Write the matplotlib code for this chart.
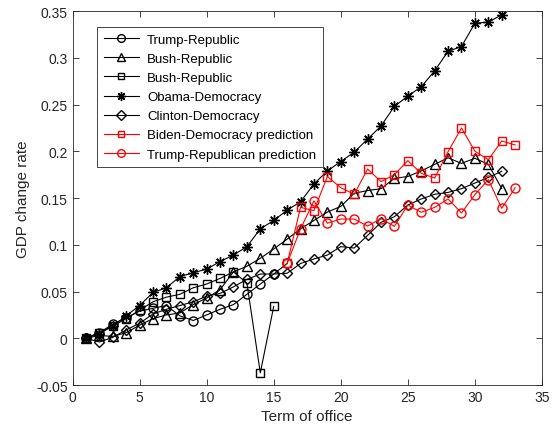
import matplotlib.pyplot as plt

plt.rcParams['font.family'] = ['Liberation Sans', 'DejaVu Sans']

# term index for each series
x_trump = list(range(1, 17))
x_bush_tri = list(range(1, 33))
x_bush_sq = list(range(1, 16))
x_obama = list(range(1, 33))
x_clinton = list(range(1, 33))
x_pred = list(range(16, 34))

trump = [0, 0.006, 0.015, 0.022, 0.029, 0.032, 0.035, 0.024, 0.019, 0.025,
         0.031, 0.036, 0.047, 0.058, 0.0687, 0.080]
bush_tri = [0, 0.003, 0.002, 0.006, 0.014, 0.021, 0.025, 0.027, 0.036, 0.043,
            0.052, 0.071, 0.077, 0.0855, 0.0955, 0.106, 0.117, 0.126, 0.135, 0.141,
            0.155, 0.158, 0.160, 0.171, 0.173, 0.179, 0.186, 0.193, 0.187, 0.1925,
            0.186, 0.160]
bush_sq = [0, 0.006, 0.013, 0.021, 0.030, 0.039, 0.044, 0.047, 0.054, 0.058,
           0.064, 0.071, 0.059, -0.037, 0.034]
obama = [0, 0.005, 0.013, 0.024, 0.035, 0.049, 0.054, 0.066, 0.070, 0.074,
         0.082, 0.089, 0.098, 0.117, 0.126, 0.137, 0.146, 0.165, 0.179, 0.189,
         0.199, 0.213, 0.227, 0.248, 0.259, 0.269, 0.286, 0.307, 0.312, 0.337,
         0.338, 0.346]
clinton = [0, -0.004, 0.001, 0.009, 0.016, 0.026, 0.031, 0.035, 0.039, 0.045,
           0.048, 0.055, 0.063, 0.0687, 0.0687, 0.0695, 0.080, 0.0848, 0.089, 0.098,
           0.0965, 0.110, 0.124, 0.130, 0.1425, 0.149, 0.154, 0.156, 0.160, 0.166,
           0.172, 0.1786]
biden_pred = [0.080, 0.140, 0.1365, 0.173, 0.161, 0.154, 0.181, 0.1675, 0.175,
              0.190, 0.1764, 0.1714, 0.1996, 0.2249, 0.200, 0.191, 0.211, 0.2067]
trump_pred = [0.080, 0.117, 0.147, 0.123, 0.1275, 0.1275, 0.120, 0.128, 0.1197,
              0.1425, 0.1347, 0.140, 0.149, 0.134, 0.1536, 0.1697, 0.139, 0.161]

fig = plt.figure(figsize=(5.54, 4.35), dpi=100)
ax = fig.add_axes([0.1309, 0.1126, 0.8474, 0.8598])

lw = 0.8
ax.plot(x_trump, trump, 'k-', marker='o', ms=6.5, mfc='none', lw=lw, label='Trump-Republic')
ax.plot(x_bush_tri, bush_tri, 'k-', marker='^', ms=7, mfc='none', lw=lw, label='Bush-Republic')
ax.plot(x_bush_sq, bush_sq, 'k-', marker='s', ms=5.5, mfc='none', lw=lw, label='Bush-Republic')
ax.plot(x_obama, obama, 'k-', marker=(8, 2, 0), ms=7.5, lw=lw, label='Obama-Democracy')
ax.plot(x_clinton, clinton, 'k-', marker='D', ms=5.5, mfc='none', lw=lw, label='Clinton-Democracy')
ax.plot(x_pred, biden_pred, '-', color='red', marker='s', ms=5.5, mfc='none', lw=lw,
        label='Biden-Democracy prediction')
ax.plot(x_pred, trump_pred, '-', color='red', marker='o', ms=6.5, mfc='none', lw=lw,
        label='Trump-Republican prediction')

ax.set_xlim(0, 35)
ax.set_ylim(-0.05, 0.35)
ax.set_xticks(range(0, 36, 5))
ax.set_yticks([-0.05, 0, 0.05, 0.1, 0.15, 0.2, 0.25, 0.3, 0.35])
ax.set_yticklabels(['-0.05', '0', '0.05', '0.1', '0.15', '0.2', '0.25', '0.3', '0.35'])
ax.set_xlabel('Term of office', fontsize=11, color='#262626')
ax.set_ylabel('GDP change rate', fontsize=11, color='#262626')

ax.tick_params(direction='in', top=True, right=True, length=4.5, width=0.6,
               labelsize=10, colors='#262626')
for s in ax.spines.values():
    s.set_color('#262626')
    s.set_linewidth(0.6)

leg = ax.legend(loc='upper left', bbox_to_anchor=(0.052, 0.957), borderaxespad=0,
                fontsize=9.5, handlelength=2.7, handletextpad=0.6, fancybox=False,
                framealpha=1, edgecolor='#262626', labelspacing=0.52, borderpad=0.5,
                markerscale=0.85)
leg.get_frame().set_linewidth(0.6)

fig.savefig('out.png', dpi=100)
